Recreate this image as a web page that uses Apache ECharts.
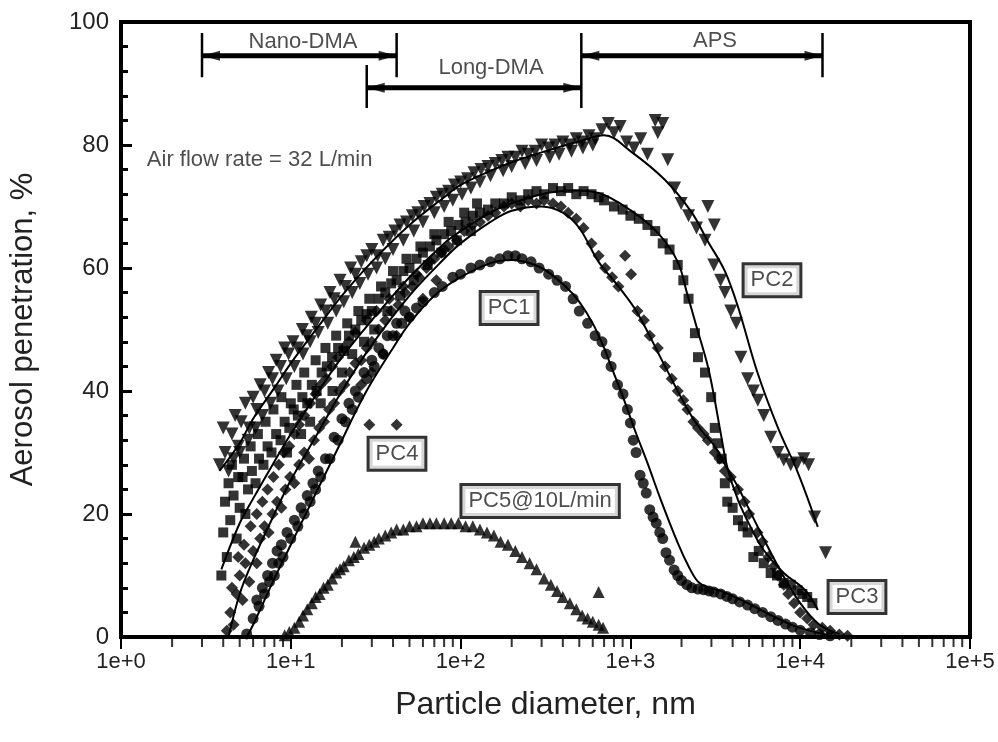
<!DOCTYPE html>
<html><head><meta charset="utf-8">
<script src="https://cdn.jsdelivr.net/npm/echarts@6/dist/echarts.min.js"></script>
<style>html,body{margin:0;padding:0;background:#fff}#c{width:998px;height:742px}</style>
</head><body><div id="c"></div>
<script>
// ---- data: [diameter nm, penetration %] ----
const pc1Points = [[5.5,0.5],[6,3],[6.3,6],[6.5,5],[6.8,8],[7,7],[7.3,10],[7.5,9],[7.8,12],[8,10],[8.3,14],[8.5,12],[8.8,15],[9,13],[9.5,17],[10,16],[10.5,19],[11,18],[11.5,21],[12,20],[12.5,23],[13,22],[13.5,25],[14,24],[14.5,27],[15,26],[16,29],[17,29],[18,32.5],[19,32],[20,35.5],[21,35],[22,38],[23,37],[24,40],[25,39],[27,43],[28,42],[30,45],[31,44],[33,47],[35,46],[37,49],[40,49],[42,51],[45,51],[47,53],[50,52],[55,53.5],[60,54.5],[70,56],[78,57],[90,58.5],[100,59],[115,60],[130,60.5],[150,61],[170,61.5],[190,62],[210,62],[230,61.5],[260,61],[290,60],[330,59],[370,58],[415,57],[460,55],[500,53],[560,51],[620,49],[680,48],[720,46],[770,44],[840,41],[905,39.5],[960,37],[1000,34.8],[1040,32],[1080,30],[1140,26.3],[1190,25],[1240,23.4],[1300,20.7],[1360,19.5],[1420,18.5],[1490,17],[1550,16],[1620,13.7],[1700,12.5],[1810,10.9],[1900,10],[2000,9.2],[2150,8.5],[2300,8],[2500,7.8],[2700,7.7],[2900,7.5],[3100,7.3],[3400,7],[3700,6.6],[4000,6.2],[4400,5.7],[4900,5.2],[5400,4.6],[6000,4],[6700,3.3],[7400,2.7],[8200,2.1],[9000,1.6],[10000,1.1],[11500,0.7],[13000,0.4],[15000,0.2]];
const pc2Points = [[3.8,28],[4.0,34],[4.1,30],[4.3,27],[4.5,33],[4.6,29],[4.7,36],[4.9,31],[5,30],[5.1,35],[5.4,38],[5.6,32],[5.7,34],[6.0,39],[6.2,34],[6.3,37],[6.6,41],[6.8,36],[7.0,40],[7.4,43],[7.6,38],[7.8,42],[8.2,45],[8.4,40],[8.7,44],[9.2,47],[9.4,42],[9.7,46],[10.3,48],[10.5,44],[11,47],[11.7,50],[11.8,46],[12.4,49],[13,48],[13.2,52],[14,51],[14.5,49.5],[15,54],[16,53],[16.5,51],[17,56],[18,55],[18.5,53],[19.5,58],[20.5,54.5],[21,57],[22.5,60],[23,56],[24,59],[25.5,57.5],[26,61],[28,62],[28.5,59],[30,63],[32,60],[32.5,62],[35,64.5],[36,61.5],[38,65],[40,63],[41,66],[44,67],[46,64.5],[48,67.5],[52,68.5],[53,66],[56,69],[60,67.5],[61,70],[66,70.5],[70,69],[72,71.5],[78,72],[80,70],[85,72.5],[90,71],[92,73.5],[100,74],[102,72],[110,74.5],[115,73],[120,75.5],[130,74],[132,76],[145,76.5],[150,75],[160,77],[175,77.5],[178,75.8],[190,78],[200,76.5],[210,78],[230,79],[240,77],[250,78.5],[275,79],[280,77.5],[300,80],[330,79.5],[335,78],[360,80],[380,78.5],[400,80.5],[440,80],[450,79],[480,81],[520,80.5],[525,79.5],[570,81.5],[600,80],[620,81],[680,82.5],[741,83.5],[800,82],[870,83],[950,80.5],[1050,79.5],[1150,81],[1260,78.5],[1400,84],[1450,82],[1550,83.5],[1660,77.6],[1820,73],[1990,70.5],[2200,68.5],[2450,66.5],[2750,64.5],[2860,70],[3120,67],[3100,60.5],[3400,58],[3600,56],[3900,53],[4200,51],[4470,45.5],[4900,42],[5300,40],[5630,38.5],[6100,36],[6700,32.5],[7400,30],[8000,28.8],[8800,28],[9660,28.3],[10500,29],[11200,28],[12150,19.5],[14100,13.7]];
const pc3Points = [[3.9,10],[4.0,17],[4.1,22],[4.2,13],[4.3,25],[4.4,19],[4.5,28],[4.6,23],[4.8,16],[4.9,26],[5.0,21],[5.2,26],[5.3,29],[5.4,20],[5.6,24],[5.8,31],[5.9,27],[6.2,25],[6.4,33],[6.5,29],[6.9,28],[7.1,35],[7.3,31],[7.7,30],[7.9,37],[8.2,33],[8.7,32],[8.8,39],[9.2,35],[9.5,30],[9.8,34],[10,38],[10.4,37],[10.8,41],[11,36],[11.5,33],[11.7,39],[12,43],[12.5,38],[13,35],[13.3,41],[14,45],[14.2,40],[15,38],[15.2,43],[16,47],[16.3,44],[17.5,45.5],[17.6,40],[18.5,49],[19,47],[20,43],[20.5,46.5],[21.5,51],[22,49],[23,46],[24,50],[25,53],[26,51.5],[27,48],[28,52.5],[29,55],[30,53],[31,50],[33,55],[34,57],[36,56],[37,53],[39,57.5],[40,59.5],[42,58],[44,55.5],[46,59.5],[48,61.5],[50,60],[53,58],[55,61.5],[58,63.5],[60,62.5],[64,60.5],[66,63.5],[70,65.5],[72,64.5],[77,62.5],[80,65.5],[85,67.5],[88,66],[95,64.5],[97,67],[105,69],[107,67.5],[115,66],[118,68.5],[125,70.5],[130,69],[145,69.5],[160,70.5],[180,70.5],[200,71.5],[225,71],[250,72],[280,72.5],[310,72],[350,73],[390,72.5],[430,73],[480,72],[530,72.5],[590,72],[650,71.5],[700,71],[800,70],[900,69.5],[1000,68.5],[1120,68],[1260,67],[1400,66],[1550,64],[1700,63],[1900,60.5],[2050,58],[2200,55],[2400,49.4],[2500,45.5],[2750,43],[2990,39],[3140,34],[3260,31.5],[3450,29],[3600,25],[3720,22],[4000,21],[4300,19],[4600,18],[4900,17],[5300,13],[5700,14],[6100,12],[6700,10.4],[7300,10],[8000,8.8],[8800,8.5],[9660,7.6],[10300,7],[11000,6.5],[11800,5.5]];
const pc4Points = [[4.2,1],[4.4,4],[4.5,8],[4.6,2],[4.8,7],[4.9,13],[5.0,10],[5.2,6],[5.3,15],[5.4,12],[5.7,9],[5.8,18],[6.0,14],[6.3,12],[6.3,20],[6.6,16],[6.8,22],[7.0,18],[7.3,24],[7.4,17],[7.8,20],[7.9,26],[8.3,22],[8.5,28],[8.8,21],[9.1,30],[9.3,24],[9.8,31],[9.9,26],[10.5,25],[10.5,33],[11.2,28],[11.2,34.5],[12,30],[12,36],[12.8,29],[13,38],[13.7,32],[14,39.5],[14.7,34],[15,41],[15.7,35],[16.2,42],[16.8,37],[17.5,44],[18,38],[19,45.5],[19.3,40],[20.5,47],[20.7,41],[22,48],[22.2,43],[24,44.5],[24,49.5],[26,45],[26,41],[28,47],[28,51.5],[29,34.5],[30,48],[30,43],[32,53],[33,50],[35,46],[36,51.5],[38,55],[39,53],[42,34.5],[42,49],[43,54],[46,57],[47,56],[50,52],[52,57],[55,59],[57,58.5],[60,55],[63,60],[66,61],[70,61.5],[72,58],[77,62.5],[80,63],[85,63.5],[95,64.5],[105,66],[117,67],[130,67.5],[145,68.5],[160,69],[180,70],[200,70.5],[225,70],[250,71],[280,70.5],[310,71],[350,70.5],[390,70],[430,69],[480,68],[530,66.5],[590,64],[650,62],[710,60],[780,58.5],[850,57],[930,62],[1010,59],[1100,53],[1200,51.5],[1300,49],[1450,47],[1600,44],[1750,42],[1900,40],[2050,38.5],[2170,37],[2350,35],[2500,34],[2700,33],[2860,32],[3140,30],[3350,29],[3600,27],[3900,26],[4300,24],[4700,22],[5000,20],[5600,17],[6000,15.5],[6500,13],[7000,11.5],[7400,10],[8000,8.5],[8500,7],[9200,5.5],[10000,4],[11000,3],[12000,2],[13500,1.5],[15000,1],[17000,0.4],[19000,0.2]];
const pc5Points = [[9.2,0.3],[9.8,0.8],[10.5,1.5],[11.2,2.5],[11.8,3.5],[12.5,4.5],[13.3,5.5],[14,6.5],[14.8,7],[15.6,8],[16.5,8.5],[17.5,9.5],[18.5,10.5],[19.5,11],[20.5,11.5],[22,12.5],[23.5,13],[24,15.5],[25,13.5],[27,14.5],[29,15],[31,15.5],[33,16],[36,16.5],[39,17],[42,17.5],[46,17.5],[50,18],[55,18],[60,18.5],[66,18.5],[72,18.5],[80,18.5],[88,18.5],[97,18.5],[107,18],[118,18],[130,17.5],[143,17],[157,16.5],[172,15.5],[190,15],[210,14],[230,13],[255,12],[280,11],[310,9.5],[340,8.5],[370,7.5],[400,6.5],[440,5.5],[480,4.5],[520,3.5],[560,3],[600,2.5],[650,2],[650,7.3],[690,1.5]];
// fitted curves
const pc1Fit = [[5.5,0],[6,2],[7,6],[8,9.5],[10,15],[12,19.5],[15,25],[20,32],[25,37.5],[30,41.5],[40,47],[50,51],[70,55.5],[100,58.5],[150,60.8],[200,61.3],[300,60],[415,57],[500,54.5],[600,51],[700,47],[770,44],[905,39],[1060,33.7],[1260,28.3],[1510,22.3],[1900,15.3],[2200,11.5],[2500,9],[2900,8],[3400,7.5],[4900,5.5],[7000,3.3],[9660,1.6],[14600,0.3]];
const pc4Fit = [[4.3,0],[5,7],[6,12.5],[8,20],[10,25.5],[15,34],[20,40],[30,47.5],[50,55.5],[80,61.5],[100,64],[150,67.5],[200,69.3],[300,70],[400,69],[500,66.5],[650,61],[850,57],[1100,52.7],[1600,44],[2170,37],[2600,33.7],[3140,31],[3700,27.5],[4300,24.4],[5600,18],[7400,11.5],[10000,5.5],[13000,2],[17000,0.5]];
const pc3Fit = [[3.9,11],[5,18.5],[6,22.5],[8,28.5],[10,33],[15,40.5],[20,45.5],[30,51.5],[50,58.5],[80,64],[100,66],[150,69],[200,70.5],[300,72],[450,72.6],[650,72.2],[1000,69.4],[1450,65.7],[1900,61],[2150,56],[2450,50.5],[2860,44],[3140,38.5],[3400,33.2],[3720,27.6],[4300,22.3],[5100,17.9],[6100,14.1],[8000,10.4],[10700,7.6],[12700,4.4]];
const pc2Fit = [[3.8,27],[5,31.5],[6,35.5],[8,40.5],[10,44.5],[15,51],[20,55.5],[30,61],[50,67],[80,71.5],[100,73.5],[150,75.8],[200,77.2],[300,78.8],[500,80.6],[700,81.6],[1000,79],[1600,74.3],[2300,69],[2850,64.4],[3600,59.5],[4300,53.7],[5600,43],[7400,34],[9700,26.7],[12700,17.9]];
// instrument ranges [from nm, to nm, level %]
const nanoDMA = [3, 42, 94.5];
const longDMA = [28, 514, 89.3];
const aps = [514, 13530, 94.5];
// labels [nm, %, text]
const curveLabels = [[193,53.5,'PC1'],[6820,58,'PC2'],[21600,6.5,'PC3'],[42.2,29.8,'PC4'],[294,22.1,'PC5@10L/min']];
const rangeLabels = [[11.8,96.7,'Nano-DMA'],[151,92.6,'Long-DMA'],[3150,96.9,'APS']];
const noteLabel = [[1.42,77.6,'Air flow rate = 32 L/min']];
const xTickDecades = [1,10,100,1000,10000];
const xMinorMultipliers = [2,3,4,5,6,7,8,9];

const FONT = '"Liberation Sans", Arial, sans-serif';
const minorTicks = [];
xTickDecades.forEach(d => xMinorMultipliers.forEach(m => minorTicks.push([d*m, 0])));

const rangeLine = (r) => [[r[0], r[2]], [r[1], r[2]]];
const bars = [
  [[nanoDMA[0],91],[nanoDMA[0],98.2]],
  [[nanoDMA[1],91],[nanoDMA[1],98.2]],
  [[longDMA[0],86],[longDMA[0],93]],
  [[longDMA[1],86],[longDMA[1],98.2]],
  [[aps[1],91],[aps[1],98.2]]
];
const leftHeads = [[nanoDMA[0],nanoDMA[2]],[longDMA[0],longDMA[2]],[aps[0],aps[2]]];
const rightHeads = [[nanoDMA[1],nanoDMA[2]],[longDMA[1],longDMA[2]],[aps[1],aps[2]]];

function scatter(name, data, symbol, size, extra) {
  return Object.assign({type:'scatter', name, data, symbol, symbolSize:size, silent:true,
    clip:false, itemStyle:{color:'#000'}}, extra||{});
}
function fit(data) {
  return {type:'line', data, symbol:'none', smooth:0.35, silent:true, z:4,
    lineStyle:{color:'#000', width:2}};
}
const series = [
  scatter('PC5', pc5Points, 'triangle', 12),
  scatter('PC1', pc1Points, 'circle', 11),
  scatter('PC4', pc4Points, 'diamond', 12),
  scatter('PC3', pc3Points, 'rect', 10),
  scatter('PC2', pc2Points, 'triangle', 13, {symbolRotate:180}),
  fit(pc1Fit), fit(pc4Fit), fit(pc3Fit), fit(pc2Fit)
];
[rangeLine(nanoDMA), rangeLine(longDMA), rangeLine(aps)].concat(bars).forEach(seg => {
  series.push({type:'line', data:seg, symbol:'none', silent:true, z:6,
    lineStyle:{color:'#000', width:seg[0][0]===seg[1][0]?2.5:5}});
});
series.push(scatter('lh', leftHeads, 'triangle', [10,18], {symbolRotate:90, symbolOffset:[9,0], z:7}));
series.push(scatter('rh', rightHeads, 'triangle', [10,18], {symbolRotate:-90, symbolOffset:[-9,0], z:7}));
series.push(scatter('minorTicks', minorTicks, 'rect', [2,8], {symbolOffset:[0,6], z:8}));
series.push({type:'scatter', data:curveLabels, symbolSize:0, silent:true, clip:false, z:20,
  label:{show:true, position:'inside', formatter:p=>p.data[2], fontFamily:FONT, fontSize:22, color:'#222',
    backgroundColor:'#fff', borderColor:'#000', borderWidth:3, padding:[4,6,2,6], lineHeight:24}});
series.push({type:'scatter', data:rangeLabels, symbolSize:0, silent:true, clip:false, z:20,
  label:{show:true, position:'inside', formatter:p=>p.data[2], fontFamily:FONT, fontSize:22, color:'#222'}});
series.push({type:'scatter', data:noteLabel, symbolSize:0, silent:true, clip:false, z:20,
  label:{show:true, position:'right', distance:0, formatter:p=>p.data[2], fontFamily:FONT, fontSize:22, color:'#222'}});

const chart = echarts.init(document.getElementById('c'), null, {renderer:'canvas'});
chart.setOption({
  animation:false,
  backgroundColor:'#fff',
  grid:{left:121, right:28, top:22, bottom:105, show:true, borderColor:'#000', borderWidth:4,
    backgroundColor:'transparent', containLabel:false, outerBoundsMode:'none'},
  xAxis:{type:'log', logBase:10, min:1, max:100000,
    axisLine:{lineStyle:{color:'#000', width:4}},
    axisTick:{show:true, inside:false, length:12, lineStyle:{color:'#000', width:2}},
    minorTick:{show:false},
    splitLine:{show:false},
    axisLabel:{formatter:v=>'1e+'+Math.round(Math.log10(v)), fontFamily:FONT, fontSize:22, color:'#222', margin:14},
    name:'Particle diameter, nm', nameLocation:'middle', nameGap:52,
    nameTextStyle:{fontFamily:FONT, fontSize:32, color:'#222'}},
  yAxis:{type:'value', min:0, max:100, interval:20,
    axisLine:{lineStyle:{color:'#000', width:4}},
    axisTick:{show:true, inside:true, length:11, lineStyle:{color:'#000', width:3}},
    minorTick:{show:true, splitNumber:5, length:7, lineStyle:{color:'#000', width:3}},
    splitLine:{show:false},
    axisLabel:{fontFamily:FONT, fontSize:24, color:'#222', margin:12},
    name:'Aerosol penetration, %', nameLocation:'middle', nameGap:82,
    nameTextStyle:{fontFamily:FONT, fontSize:31, color:'#222'}},
  series
});
</script></body></html>
